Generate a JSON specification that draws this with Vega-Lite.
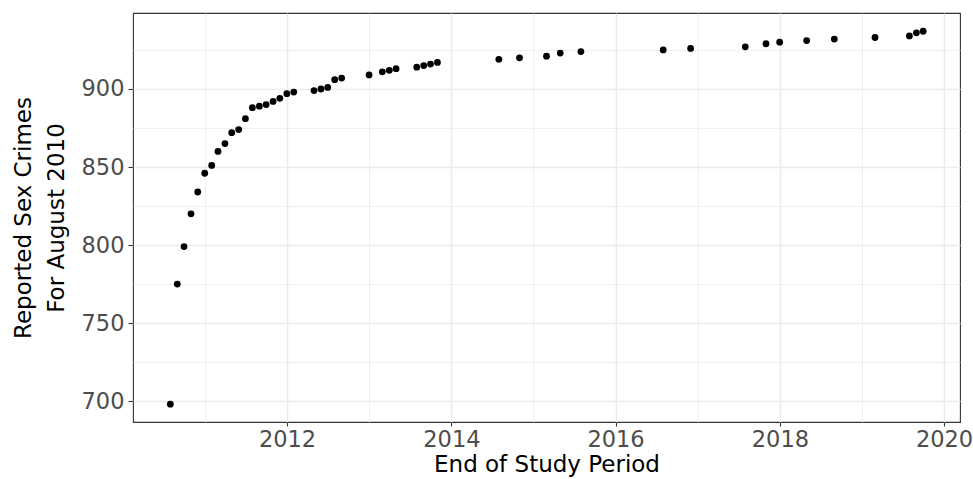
{
  "$schema": "https://vega.github.io/schema/vega-lite/v6.json",
  "width": 827,
  "height": 409,
  "autosize": {"type": "none"},
  "padding": {"left": 133, "top": 13, "right": 13, "bottom": 57},
  "background": "white",
  "config": {
    "font": "DejaVu Sans",
    "view": {"stroke": "#333333", "strokeWidth": 1.1},
    "axis": {
      "labelFont": "DejaVu Sans",
      "titleFont": "DejaVu Sans",
      "labelColor": "#4D4D4D",
      "labelFontSize": 22.5,
      "titleFontSize": 23,
      "titleFontWeight": "normal",
      "titleColor": "#000000",
      "tickColor": "#333333",
      "tickWidth": 1.1,
      "gridColor": "#EBEBEB",
      "domain": false
    }
  },
  "data": {
    "values": [
      {"date": "2010-07-31", "crimes": 698},
      {"date": "2010-08-31", "crimes": 775},
      {"date": "2010-09-30", "crimes": 799},
      {"date": "2010-10-31", "crimes": 820},
      {"date": "2010-11-30", "crimes": 834},
      {"date": "2010-12-31", "crimes": 846},
      {"date": "2011-01-31", "crimes": 851},
      {"date": "2011-02-28", "crimes": 860},
      {"date": "2011-03-31", "crimes": 865},
      {"date": "2011-04-30", "crimes": 872},
      {"date": "2011-05-31", "crimes": 874},
      {"date": "2011-06-30", "crimes": 881},
      {"date": "2011-07-31", "crimes": 888},
      {"date": "2011-08-31", "crimes": 889},
      {"date": "2011-09-30", "crimes": 890},
      {"date": "2011-10-31", "crimes": 892},
      {"date": "2011-11-30", "crimes": 894},
      {"date": "2011-12-31", "crimes": 897},
      {"date": "2012-01-31", "crimes": 898},
      {"date": "2012-04-30", "crimes": 899},
      {"date": "2012-05-31", "crimes": 900},
      {"date": "2012-06-30", "crimes": 901},
      {"date": "2012-07-31", "crimes": 906},
      {"date": "2012-08-31", "crimes": 907},
      {"date": "2012-12-31", "crimes": 909},
      {"date": "2013-02-28", "crimes": 911},
      {"date": "2013-03-31", "crimes": 912},
      {"date": "2013-04-30", "crimes": 913},
      {"date": "2013-07-31", "crimes": 914},
      {"date": "2013-08-31", "crimes": 915},
      {"date": "2013-09-30", "crimes": 916},
      {"date": "2013-10-31", "crimes": 917},
      {"date": "2014-07-31", "crimes": 919},
      {"date": "2014-10-31", "crimes": 920},
      {"date": "2015-02-28", "crimes": 921},
      {"date": "2015-04-30", "crimes": 923},
      {"date": "2015-07-31", "crimes": 924},
      {"date": "2016-07-31", "crimes": 925},
      {"date": "2016-11-30", "crimes": 926},
      {"date": "2017-07-31", "crimes": 927},
      {"date": "2017-10-31", "crimes": 929},
      {"date": "2017-12-31", "crimes": 930},
      {"date": "2018-04-30", "crimes": 931},
      {"date": "2018-08-31", "crimes": 932},
      {"date": "2019-02-28", "crimes": 933},
      {"date": "2019-07-31", "crimes": 934},
      {"date": "2019-08-31", "crimes": 936},
      {"date": "2019-09-30", "crimes": 937}
    ]
  },
  "mark": {"type": "point", "filled": true, "color": "#000000", "opacity": 1, "size": 46},
  "encoding": {
    "x": {
      "field": "date",
      "type": "temporal",
      "title": "End of Study Period",
      "scale": {
        "domain": [
          {"year": 2010, "month": 2, "date": 15, "utc": true},
          {"year": 2020, "month": 3, "date": 12, "utc": true}
        ]
      },
      "axis": {
        "values": [
          {"year": 2011, "month": 1, "date": 1, "utc": true},
          {"year": 2012, "month": 1, "date": 1, "utc": true},
          {"year": 2013, "month": 1, "date": 1, "utc": true},
          {"year": 2014, "month": 1, "date": 1, "utc": true},
          {"year": 2015, "month": 1, "date": 1, "utc": true},
          {"year": 2016, "month": 1, "date": 1, "utc": true},
          {"year": 2017, "month": 1, "date": 1, "utc": true},
          {"year": 2018, "month": 1, "date": 1, "utc": true},
          {"year": 2019, "month": 1, "date": 1, "utc": true},
          {"year": 2020, "month": 1, "date": 1, "utc": true}
        ],
        "labelExpr": "utcyear(datum.value) % 2 == 0 ? utcFormat(datum.value, '%Y') : ''",
        "tickSize": 4,
        "tickOpacity": {"condition": {"test": "utcyear(datum.value) % 2 == 1", "value": 0}, "value": 1},
        "gridWidth": {"condition": {"test": "utcyear(datum.value) % 2 == 1", "value": 0.8}, "value": 1.5},
        "labelPadding": 2,
        "labelFlush": false,
        "labelOverlap": false,
        "titlePadding": 3
      }
    },
    "y": {
      "field": "crimes",
      "type": "quantitative",
      "title": ["Reported Sex Crimes", "For August 2010"],
      "scale": {"domain": [686.6, 948.7], "nice": false, "zero": false},
      "axis": {
        "values": [700, 725, 750, 775, 800, 825, 850, 875, 900, 925],
        "labelExpr": "datum.value % 50 == 0 ? datum.label : ''",
        "tickSize": 5,
        "tickOpacity": {"condition": {"test": "datum.value % 50 != 0", "value": 0}, "value": 1},
        "gridWidth": {"condition": {"test": "datum.value % 50 != 0", "value": 0.8}, "value": 1.5},
        "labelPadding": 4,
        "labelFlush": false,
        "labelOverlap": false,
        "titlePadding": 13,
        "titleLineHeight": 33
      }
    }
  }
}
